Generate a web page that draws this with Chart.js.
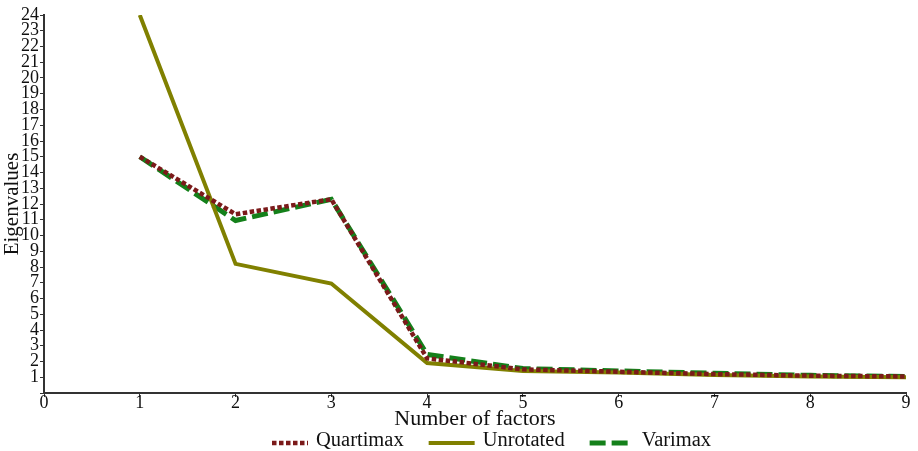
<!DOCTYPE html>
<html>
<head>
<meta charset="utf-8">
<script src="https://cdn.jsdelivr.net/npm/chart.js@4/dist/chart.umd.min.js"></script>
<style>
  html, body { margin: 0; padding: 0; background: #fff; }
  #wrap { width: 918px; height: 451px; }
</style>
</head>
<body>
<div id="wrap"><canvas id="scree"></canvas></div>
<script>
// factor numbers and eigenvalues
const factors = [1, 2, 3, 4, 5, 6, 7, 8, 9];
const quartimax = [15.0, 11.35, 12.3, 2.2, 1.5, 1.35, 1.2, 1.1, 1.05];
const unrotated = [24.0, 8.2, 6.95, 1.9, 1.4, 1.3, 1.15, 1.05, 1.0];
const varimax = [15.0, 10.95, 12.3, 2.45, 1.55, 1.4, 1.25, 1.12, 1.05];

const FONT = "'Liberation Serif', 'Times New Roman', serif";
const AXIS = "#333333";

function pts(ys) {
  return factors.map((x, i) => ({ x: x, y: ys[i] }));
}

// legend drawn by hand so the dotted / dashed samples keep their style
const bottomLegend = {
  id: "bottomLegend",
  afterDraw(chart) {
    const ctx = chart.ctx;
    const samples = [36, 46, 44];
    const y = 443;
    let x = 272;
    ctx.save();
    ctx.font = "20.5px " + FONT;
    ctx.textBaseline = "alphabetic";
    chart.data.datasets.forEach((ds, i) => {
      const w = samples[i];
      ctx.strokeStyle = ds.borderColor;
      ctx.lineWidth = ds.borderWidth;
      ctx.lineCap = "butt";
      ctx.setLineDash(ds.borderDash || []);
      ctx.beginPath();
      ctx.moveTo(x, y);
      ctx.lineTo(x + w, y);
      ctx.stroke();
      ctx.setLineDash([]);
      ctx.fillStyle = "#111";
      const tx = x + w + 8;
      ctx.fillText(ds.label, tx, 446);
      x = tx + ctx.measureText(ds.label).width + 25;
    });
    ctx.restore();
  },
};

new Chart(document.getElementById("scree"), {
  type: "line",
  data: {
    datasets: [
      {
        label: "Quartimax",
        data: pts(quartimax),
        borderColor: "#7b1a1a",
        borderWidth: 4.5,
        borderDash: [4.5, 2.5],
        borderCapStyle: "butt",
      },
      {
        label: "Unrotated",
        data: pts(unrotated),
        borderColor: "#808000",
        borderWidth: 4,
      },
      {
        label: "Varimax",
        data: pts(varimax),
        borderColor: "#14801a",
        borderWidth: 5,
        borderDash: [16, 6],
        borderCapStyle: "butt",
      },
    ],
  },
  options: {
    responsive: true,
    maintainAspectRatio: false,
    animation: false,
    layout: { padding: { top: 15, right: 12, left: 0, bottom: 19 } },
    elements: { point: { radius: 0 }, line: { tension: 0 } },
    plugins: {
      tooltip: { enabled: false },
      legend: { display: false },
    },
    scales: {
      x: {
        type: "linear",
        min: 0,
        max: 9,
        border: { color: AXIS, width: 2 },
        grid: { drawOnChartArea: false, tickLength: 4, color: AXIS },
        ticks: {
          stepSize: 1,
          padding: -5,
          color: "#111",
          font: { family: FONT, size: 18 },
        },
        title: {
          display: true,
          text: "Number of factors",
          color: "#111",
          padding: { top: -3, bottom: 0 },
          font: { family: FONT, size: 22 },
        },
      },
      y: {
        type: "linear",
        min: 0,
        max: 24,
        border: { color: AXIS, width: 2 },
        grid: { drawOnChartArea: false, tickLength: 4, color: AXIS },
        ticks: {
          stepSize: 1,
          autoSkip: false,
          padding: 1,
          color: "#111",
          font: { family: FONT, size: 18 },
          callback: v => (v === 0 ? "" : v),
        },
        title: {
          display: true,
          text: "Eigenvalues",
          color: "#111",
          padding: { top: 0, bottom: 0 },
          font: { family: FONT, size: 21 },
        },
        afterFit(scale) {
          scale.width = 44;
        },
      },
    },
  },
  plugins: [bottomLegend],
});
</script>
</body>
</html>
